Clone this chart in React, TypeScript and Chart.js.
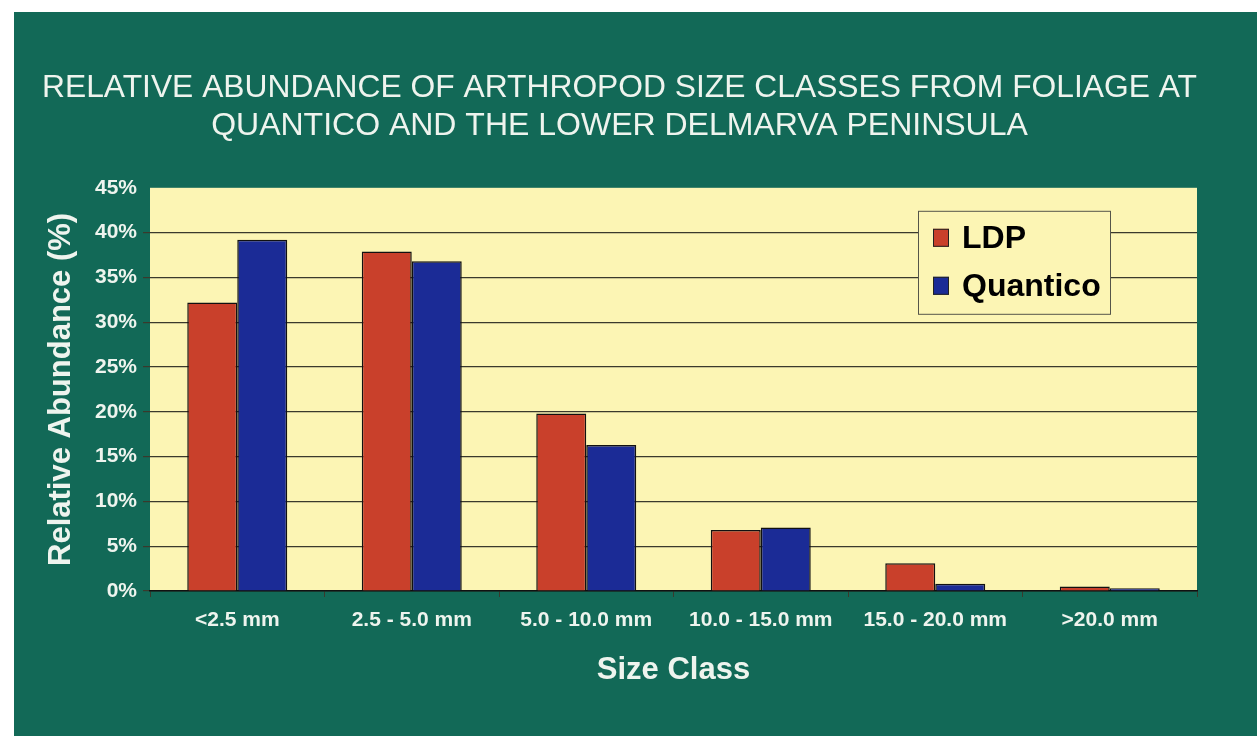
import React, { useEffect, useRef } from "react";
import { Chart, registerables } from "chart.js";

Chart.register(...registerables);

const categories = ["<2.5 mm", "2.5 - 5.0 mm", "5.0 - 10.0 mm", "10.0 - 15.0 mm", "15.0 - 20.0 mm", ">20.0 mm"];
const ldpValues = [32.2, 37.9, 19.8, 6.8, 3.1, 0.5];
const quanticoValues = [39.2, 36.8, 16.3, 7.1, 0.8, 0.3];
const seriesLabels = ["LDP", "Quantico"];
const titleLines = ["RELATIVE ABUNDANCE OF ARTHROPOD SIZE CLASSES FROM FOLIAGE AT", "QUANTICO AND THE LOWER DELMARVA PENINSULA"];
const yAxisTitle = "Relative Abundance (%)";
const xAxisTitle = "Size Class";

const GREEN = "#126957";
const PLOT_BG = "#fcf5b4";
const RED = "#c9402b";
const BLUE = "#1b2b96";
const TEXT = "#eef4ee";
const GRID = "#3a392c";
const FONT = '"Liberation Sans", Arial, sans-serif';

const plotBgPlugin = {
  id: "plotBg",
  beforeDraw(chart: any) {
    const { ctx, chartArea } = chart;
    ctx.save();
    ctx.fillStyle = PLOT_BG;
    ctx.fillRect(chartArea.left, chartArea.top, chartArea.right - chartArea.left, chartArea.bottom - chartArea.top);
    ctx.restore();
  },
};

const boxLegendPlugin = {
  id: "boxLegend",
  afterDatasetsDraw(chart: any) {
    const { ctx, chartArea } = chart;
    const x = chartArea.right - 279;
    const y = chartArea.top + 23;
    const w = 192;
    const h = 103;
    ctx.save();
    ctx.fillStyle = PLOT_BG;
    ctx.fillRect(x, y, w, h);
    ctx.strokeStyle = "#55554a";
    ctx.lineWidth = 1;
    ctx.strokeRect(x + 0.5, y + 0.5, w, h);
    chart.data.datasets.forEach((ds: any, i: number) => {
      const rowY = y + 27 + i * 48;
      ctx.fillStyle = ds.backgroundColor;
      ctx.fillRect(x + 15, rowY - 9, 16, 18);
      ctx.strokeStyle = "#222";
      ctx.strokeRect(x + 15.5, rowY - 8.5, 15, 17);
      ctx.fillStyle = "#000";
      ctx.font = `bold 32px ${FONT}`;
      ctx.textBaseline = "middle";
      ctx.textAlign = "left";
      ctx.fillText(ds.label, x + 44, rowY + 1);
    });
    ctx.restore();
  },
};

export default function App() {
  const canvasRef = useRef<HTMLCanvasElement | null>(null);

  useEffect(() => {
    document.body.style.margin = "0";
    const canvas = canvasRef.current;
    if (!canvas) return;
    const chart = new Chart(canvas, {
      type: "bar",
      data: {
        labels: categories,
        datasets: [
          {
            label: seriesLabels[0],
            data: ldpValues,
            backgroundColor: RED,
            borderColor: "#111",
            borderWidth: 1.5,
            categoryPercentage: 0.573,
            barPercentage: 1,
          },
          {
            label: seriesLabels[1],
            data: quanticoValues,
            backgroundColor: BLUE,
            borderColor: "#111",
            borderWidth: 1.5,
            categoryPercentage: 0.573,
            barPercentage: 1,
          },
        ],
      },
      options: {
        animation: false,
        responsive: false,
        maintainAspectRatio: false,
        layout: { padding: { left: 28, right: 60, top: 0, bottom: 0 } },
        plugins: {
          legend: { display: false },
          tooltip: { enabled: false },
          title: {
            display: true,
            text: titleLines,
            color: TEXT,
            font: { family: FONT, size: 32, weight: "normal", lineHeight: 1.2 },
            padding: { top: 57, bottom: 42 },
          },
        },
        scales: {
          x: {
            afterFit: (scale: any) => {
              scale.height = 145;
            },
            grid: {
              display: true,
              drawOnChartArea: false,
              drawTicks: true,
              tickLength: 6,
              color: GRID,
              offset: true,
            },
            border: { display: true, color: "#111", width: 1.5 },
            ticks: {
              color: TEXT,
              font: { family: FONT, size: 21, weight: "bold" },
              padding: 11,
              maxRotation: 0,
            },
            title: {
              display: true,
              text: xAxisTitle,
              color: TEXT,
              font: { family: FONT, size: 31, weight: "bold" },
              padding: { top: 0, bottom: 47 },
            },
          },
          y: {
            min: 0,
            max: 45,
            afterFit: (scale: any) => {
              scale.width = 108;
            },
            grid: {
              display: true,
              drawOnChartArea: true,
              tickLength: 7,
              lineWidth: 1.2,
              color: (c: any) => (c.tick && c.tick.value === 45 ? "rgba(0,0,0,0)" : GRID),
            },
            border: { display: false },
            ticks: {
              stepSize: 5,
              color: TEXT,
              font: { family: FONT, size: 21, weight: "bold" },
              padding: 6,
              callback: (v: any) => `${v}%`,
            },
            title: {
              display: true,
              text: yAxisTitle,
              color: TEXT,
              font: { family: FONT, size: 31, weight: "bold" },
              padding: { top: 1, bottom: 0 },
            },
          },
        },
      },
      plugins: [plotBgPlugin, boxLegendPlugin],
    });
    return () => chart.destroy();
  }, []);

  return (
    <div style={{ position: "absolute", left: 0, top: 0, width: 1257, height: 736, background: "#ffffff", overflow: "hidden" }}>
      <canvas
        ref={canvasRef}
        width={1243}
        height={724}
        style={{ position: "absolute", left: 14, top: 12, width: 1243, height: 724, background: GREEN }}
      />
    </div>
  );
}
